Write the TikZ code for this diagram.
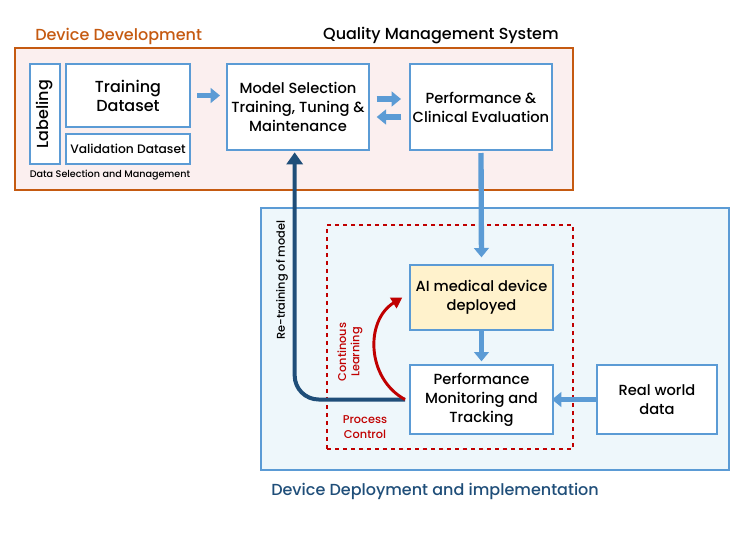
\documentclass[tikz,border=0pt]{standalone}
\usepackage{fontspec}
\setmainfont{Poppins}[UprightFont=* Medium]
\usetikzlibrary{arrows.meta}

\definecolor{boxblue}{HTML}{5B9BD5}
\definecolor{darkblue}{HTML}{1F4E79}
\definecolor{devorange}{HTML}{C55A11}
\definecolor{pcred}{HTML}{C00000}
\definecolor{devfill}{HTML}{FBEFEF}
\definecolor{depfill}{HTML}{EEF7FB}
\definecolor{aifill}{HTML}{FFF2CC}

\begin{document}
\begin{tikzpicture}[x=0.75pt,y=-0.75pt,
    box/.style={draw=boxblue,line width=1.5pt,fill=white,align=center,inner sep=2pt,font=\fontsize{11}{14.25}\selectfont},
    fat/.style={boxblue,line width=4pt,-{Triangle[length=7pt,width=11pt]}},
    lbl/.style={inner sep=0pt,align=center}]
    \useasboundingbox (0,0) rectangle (744,533);

    % Frames
    \node[draw=devorange,line width=1.5pt,fill=devfill,minimum width=418.5pt,minimum height=106.5pt] (dev) at (294,119) {};
    \node[draw=boxblue,line width=1.2pt,fill=depfill,minimum width=351pt,minimum height=196.5pt] (dep) at (495,339) {};
    \node[draw=pcred,line width=1.1pt,dashed,minimum width=184.5pt,minimum height=168pt] (pc) at (450,337) {};

    % Titles
    \node[lbl,text=devorange,font=\fontsize{12}{14}\selectfont,anchor=west] (devtitle) at (35,36) {Device Development};
    \node[lbl,font=\fontsize{12}{14}\selectfont,anchor=east] (qms) at (559,36) {Quality Management System};
    \node[lbl,text=darkblue,font=\fontsize{12}{14}\selectfont,anchor=west] (deptitle) at (271,491) {Device Deployment and implementation};

    % Data boxes
    \node[box,rotate=90,minimum width=75pt,minimum height=22.5pt,font=\fontsize{12}{14}\selectfont] (lab) at (45,114) {Labeling};
    \node[box,minimum width=93pt,minimum height=47.25pt,font=\fontsize{12}{14.25}\selectfont] (train) at (128,95.5) {Training\\Dataset};
    \node[box,minimum width=93pt,minimum height=22.5pt,font=\fontsize{9.2}{11}\selectfont] (valid) at (128,149) {Validation Dataset};
    \node[lbl,font=\fontsize{7.2}{8}\selectfont] (dsm) at (110,175) {Data Selection and Management};

    % Model and evaluation
    \node[box,minimum width=106.5pt,minimum height=64.5pt] (model) at (298,107) {Model Selection\\Training, Tuning \&\\Maintenance};
    \node[box,minimum width=106.5pt,minimum height=64.5pt] (perf) at (481,107) {Performance \&\\Clinical Evaluation};

    % Deployment
    \node[box,fill=aifill,minimum width=107.25pt,minimum height=48.75pt] (ai) at (481.5,297.5) {AI medical device\\deployed};
    \node[box,minimum width=107.25pt,minimum height=51.75pt] (mon) at (481.5,399.5) {Performance\\Monitoring and\\Tracking};
    \node[box,minimum width=90pt,minimum height=51.75pt] (real) at (657,399.5) {Real world\\data};

    % Side labels
    \node[lbl,rotate=90,font=\fontsize{8.5}{10}\selectfont] (retrain) at (282,280) {Re-training of model};
    \node[lbl,rotate=90,text=pcred,font=\fontsize{8.5}{10}\selectfont] (cl) at (350,352) {Continous\\Learning};
    \node[lbl,text=pcred,font=\fontsize{8.5}{11}\selectfont] (pctext) at (365,427) {Process\\Control};

    % Blue arrows
    \draw[fat] ([xshift=4.5pt]train.east) -- ([xshift=-4.5pt]model.west |- train.east);
    \draw[fat] ([xshift=5pt,yshift=6pt]model.east) -- ([xshift=-6pt,yshift=6pt]perf.west);
    \draw[fat] ([xshift=-6pt,yshift=-7.5pt]perf.west) -- ([xshift=5pt,yshift=-7.5pt]model.east);
    \draw[fat,shorten <=1.5pt,shorten >=5pt] (perf.south) -- (ai.north);
    \draw[fat,shorten >=2pt] (ai.south) -- (mon.north);
    \draw[fat] (real.west) -- ([xshift=-1.5pt]mon.east);

    % Re-training loop
    \draw[darkblue,line width=3pt,rounded corners=18pt,-{Triangle[length=9pt,width=12pt]}]
        ([xshift=-3pt]mon.west) -| ([xshift=-2.5pt,yshift=-1pt]model.south);

    % Continuous learning
    \draw[pcred,line width=2.2pt,-{Triangle[length=8pt,width=9pt]}]
        ([xshift=-3pt]mon.west) to[bend left=60,looseness=1.1] ([xshift=-5pt,yshift=0pt]ai.west);
\end{tikzpicture}
\end{document}
